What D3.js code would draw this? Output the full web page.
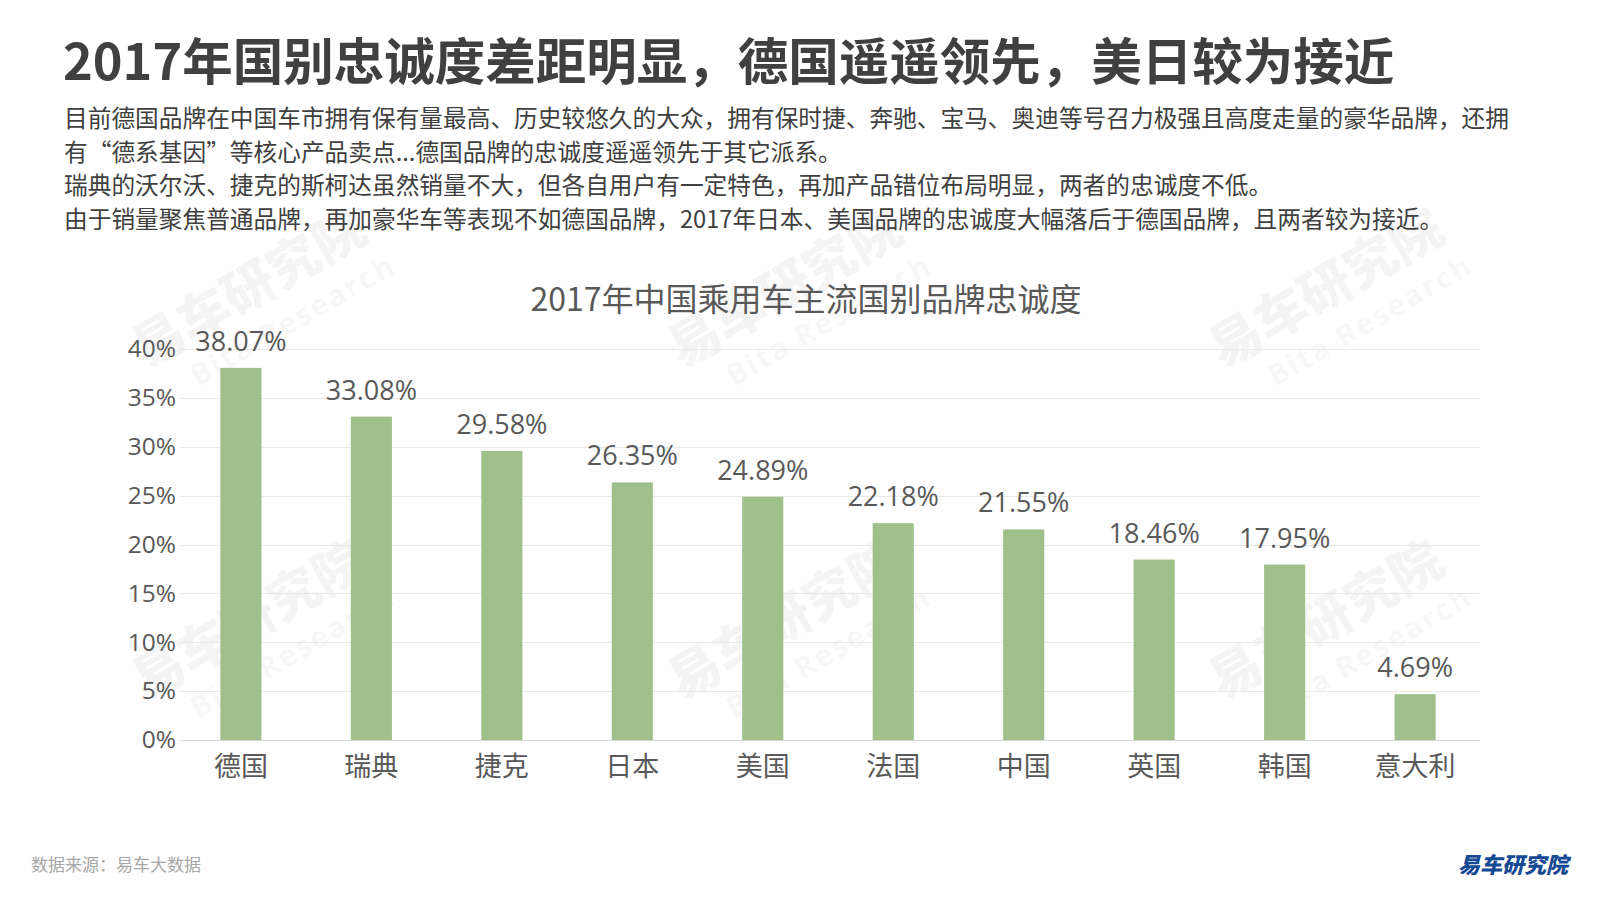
<!DOCTYPE html>
<html>
<head>
<meta charset="utf-8">
<script src="https://cdn.jsdelivr.net/npm/d3@7"></script>
<style>
  html, body { margin: 0; padding: 0; background: #fff; }
  svg { display: block; }
</style>
</head>
<body>
<script>
const categories = ["德国", "瑞典", "捷克", "日本", "美国", "法国", "中国", "英国", "韩国", "意大利"];
const loyalty = [38.07, 33.08, 29.58, 26.35, 24.89, 22.18, 21.55, 18.46, 17.95, 4.69];
const yTicks = [0, 5, 10, 15, 20, 25, 30, 35, 40];
const mainTitle = "2017年国别忠诚度差距明显，德国遥遥领先，美日较为接近";
const paragraph = [
  "目前德国品牌在中国车市拥有保有量最高、历史较悠久的大众，拥有保时捷、奔驰、宝马、奥迪等号召力极强且高度走量的豪华品牌，还拥",
  "有“德系基因”等核心产品卖点...德国品牌的忠诚度遥遥领先于其它派系。",
  "瑞典的沃尔沃、捷克的斯柯达虽然销量不大，但各自用户有一定特色，再加产品错位布局明显，两者的忠诚度不低。",
  "由于销量聚焦普通品牌，再加豪华车等表现不如德国品牌，2017年日本、美国品牌的忠诚度大幅落后于德国品牌，且两者较为接近。"
];
const chartTitle = "2017年中国乘用车主流国别品牌忠诚度";
const sourceText = "数据来源：易车大数据";
const logoText = "易车研究院";

const W = 1600, H = 900;
const cjk = "'Noto Sans CJK SC', 'Open Sans', sans-serif";
const num = "'Open Sans', 'Noto Sans CJK SC', sans-serif";

const svg = d3.select("body").append("svg").attr("width", W).attr("height", H);

// watermarks
const wmPos = [[262, 311], [798, 311], [1339, 311], [262, 643], [798, 643], [1339, 643]];
const wm = svg.append("g").attr("class", "watermarks");
wmPos.forEach(([x, y]) => {
  const g = wm.append("g").attr("transform", `translate(${x},${y}) rotate(-30)`);
  g.append("text").attr("x", 0).attr("y", -8).attr("text-anchor", "middle")
    .attr("font-family", cjk).attr("font-weight", 900).attr("font-size", 52)
    .attr("fill", "#000").attr("fill-opacity", 0.045).text("易车研究院");
  g.append("text").attr("x", 22).attr("y", 34).attr("text-anchor", "middle")
    .attr("font-family", num).attr("font-weight", 700).attr("font-size", 30)
    .attr("letter-spacing", 2)
    .attr("fill", "#000").attr("fill-opacity", 0.045).text("Bita Research");
});

// main title
svg.append("text").attr("x", 63).attr("y", 80)
  .attr("font-family", cjk).attr("font-weight", 700).attr("font-size", 50.5)
  .attr("fill", "#404040").text(mainTitle);

// paragraph
svg.append("g").selectAll("text").data(paragraph).join("text")
  .attr("x", 64).attr("y", (d, i) => 127 + i * 33.5)
  .attr("font-family", cjk).attr("font-size", 23.7)
  .attr("fill", "#404040").text(d => d);

// chart
const x = d3.scaleBand().domain(categories).range([176, 1480]).paddingInner(0.685).paddingOuter(0.34);
const y = d3.scaleLinear().domain([0, 40]).range([740, 349]);

svg.append("text").attr("x", 806).attr("y", 311).attr("text-anchor", "middle")
  .attr("font-family", cjk).attr("font-size", 32).attr("fill", "#595959").text(chartTitle);

// gridlines
svg.append("g").selectAll("line").data(yTicks).join("line")
  .attr("x1", 180).attr("x2", 1480)
  .attr("y1", d => Math.round(y(d)) + 0.5).attr("y2", d => Math.round(y(d)) + 0.5)
  .attr("stroke", d => d === 0 ? "#d9d9d9" : "#e8e8e8").attr("stroke-width", 1);

// y axis
const yAxis = svg.append("g").attr("transform", "translate(176,0)")
  .call(d3.axisLeft(y).tickValues(yTicks).tickFormat(d => d + "%").tickSize(0).tickPadding(0));
yAxis.select(".domain").remove();
yAxis.selectAll("text").attr("font-family", num).attr("font-size", 24.5).attr("fill", "#595959");

// bars
svg.append("g").selectAll("rect").data(loyalty).join("rect")
  .attr("x", (d, i) => x(categories[i])).attr("width", x.bandwidth())
  .attr("y", d => y(d)).attr("height", d => y(0) - y(d))
  .attr("fill", "#9fbf8b");

// value labels
svg.append("g").selectAll("text").data(loyalty).join("text")
  .attr("x", (d, i) => x(categories[i]) + x.bandwidth() / 2)
  .attr("y", d => y(d) - 17).attr("text-anchor", "middle")
  .attr("font-family", num).attr("font-size", 27).attr("fill", "#595959")
  .text(d => d.toFixed(2) + "%");

// x axis
const xAxis = svg.append("g").attr("transform", "translate(0,740)")
  .call(d3.axisBottom(x).tickSize(0).tickPadding(0));
xAxis.select(".domain").remove();
xAxis.selectAll("text").attr("dy", null).attr("y", 36)
  .attr("font-family", cjk).attr("font-size", 27).attr("fill", "#595959");

// footer
svg.append("text").attr("x", 31).attr("y", 871)
  .attr("font-family", cjk).attr("font-size", 17).attr("fill", "#a6a6a6").text(sourceText);
svg.append("text").attr("x", 1568).attr("y", 873).attr("text-anchor", "end")
  .attr("font-family", cjk).attr("font-weight", 900).attr("font-size", 22)
  .attr("font-style", "italic")
  .attr("fill", "#174a94").text(logoText);
</script>
</body>
</html>
